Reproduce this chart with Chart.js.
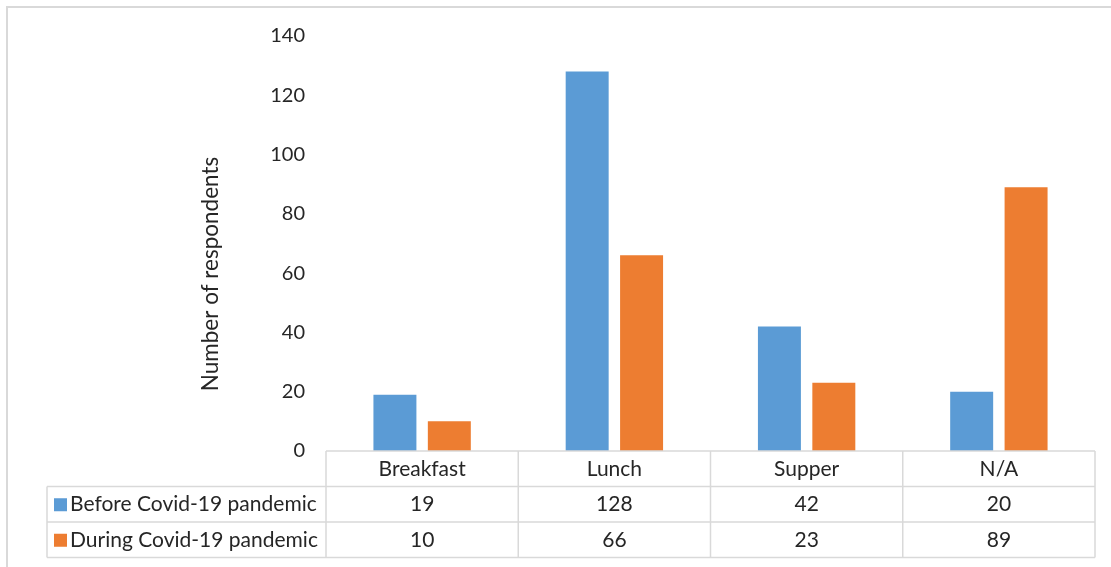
<!DOCTYPE html>
<html>
<head>
<meta charset="utf-8">
<script src="https://cdn.jsdelivr.net/npm/chart.js@4.4.1/dist/chart.umd.min.js"></script>
<style>
  html, body { margin: 0; padding: 0; background: #fff; }
  #wrap { width: 1111px; height: 567px; }
</style>
</head>
<body>
<div id="wrap"><canvas id="chart" width="1111" height="567"></canvas></div>
<script>
const meals = ["Breakfast", "Lunch", "Supper", "N/A"];
const beforeCovid = [19, 128, 42, 20];
const duringCovid = [10, 66, 23, 89];
const yTicks = [0, 20, 40, 60, 80, 100, 120, 140];
const yTitle = "Number of respondents";

const FONT = "Lato, 'Open Sans', sans-serif";
const TEXT = "#262626";
const GRID = "#d9d9d9";

const seriesList = [
  { label: "Before Covid-19 pandemic", data: beforeCovid, color: "#5b9bd5" },
  { label: "During Covid-19 pandemic", data: duringCovid, color: "#ed7d31" },
];

// outer frame, cropped on the right and bottom
const framePlugin = {
  id: "frame",
  beforeDraw(chart) {
    const c = chart.ctx;
    c.save();
    c.strokeStyle = GRID;
    c.lineWidth = 2;
    c.strokeRect(7, 7, 1300, 800);
    c.restore();
  },
};

// rotated axis title, sitting a little below the plot's middle
const yTitlePlugin = {
  id: "yTitle",
  afterDraw(chart) {
    const c = chart.ctx;
    c.save();
    c.translate(211, 274);
    c.rotate(-Math.PI / 2);
    c.fillStyle = TEXT;
    c.font = "22.5px " + FONT;
    c.textAlign = "center";
    c.textBaseline = "middle";
    c.fillText(yTitle, 0, 0);
    c.restore();
  },
};

// data table under the plot, aligned to the category scale
const tablePlugin = {
  id: "dataTable",
  afterDraw(chart) {
    const c = chart.ctx;
    const x = chart.scales.x;
    const area = chart.chartArea;
    const rowH = 35.5;
    const labelLeft = 47;
    const step = x.getPixelForTick(1) - x.getPixelForTick(0);
    const edges = meals.map((m, i) => x.getPixelForTick(i) - step / 2);
    edges.push(x.getPixelForTick(meals.length - 1) + step / 2);
    const top = area.bottom;
    const right = edges[edges.length - 1];

    c.save();
    c.strokeStyle = GRID;
    c.lineWidth = 1.5;
    c.beginPath();
    c.moveTo(edges[0], top); c.lineTo(right, top);
    for (let r = 1; r <= 3; r++) {
      c.moveTo(labelLeft, top + rowH * r); c.lineTo(right, top + rowH * r);
    }
    edges.forEach((ex) => { c.moveTo(ex, top); c.lineTo(ex, top + rowH * 3); });
    c.moveTo(labelLeft, top + rowH); c.lineTo(labelLeft, top + rowH * 3);
    c.stroke();

    c.fillStyle = TEXT;
    c.font = "21px " + FONT;
    c.textBaseline = "middle";
    c.textAlign = "center";
    meals.forEach((m, i) => c.fillText(m, x.getPixelForTick(i), top + rowH / 2));

    seriesList.forEach((s, r) => {
      const cy = top + rowH * (r + 1.5);
      c.fillStyle = s.color;
      c.fillRect(labelLeft + 7, cy - 6, 13, 13);
      c.fillStyle = TEXT;
      c.textAlign = "left";
      c.fillText(s.label, labelLeft + 23, cy);
      c.textAlign = "center";
      s.data.forEach((v, i) => c.fillText(String(v), x.getPixelForTick(i), cy));
    });
    c.restore();
  },
};

new Chart(document.getElementById("chart"), {
  type: "bar",
  data: {
    labels: meals,
    datasets: seriesList.map((s) => ({
      label: s.label,
      data: s.data,
      backgroundColor: s.color,
      borderWidth: 0,
      categoryPercentage: 0.566,
      barPercentage: 0.79,
    })),
  },
  options: {
    responsive: false,
    animation: false,
    layout: { padding: { left: 192, right: 16, top: 36, bottom: 116 } },
    plugins: { legend: { display: false }, tooltip: { enabled: false } },
    scales: {
      x: { display: false },
      y: {
        min: 0,
        max: 140,
        afterBuildTicks(scale) { scale.ticks = yTicks.map((v) => ({ value: v })); },
        afterFit(scale) { scale.width = 134; },
        grid: { display: false, drawTicks: false },
        border: { display: false },
        ticks: { color: TEXT, font: { family: FONT, size: 20 }, padding: 21 },
      },
    },
  },
  plugins: [framePlugin, yTitlePlugin, tablePlugin],
});
</script>
</body>
</html>
